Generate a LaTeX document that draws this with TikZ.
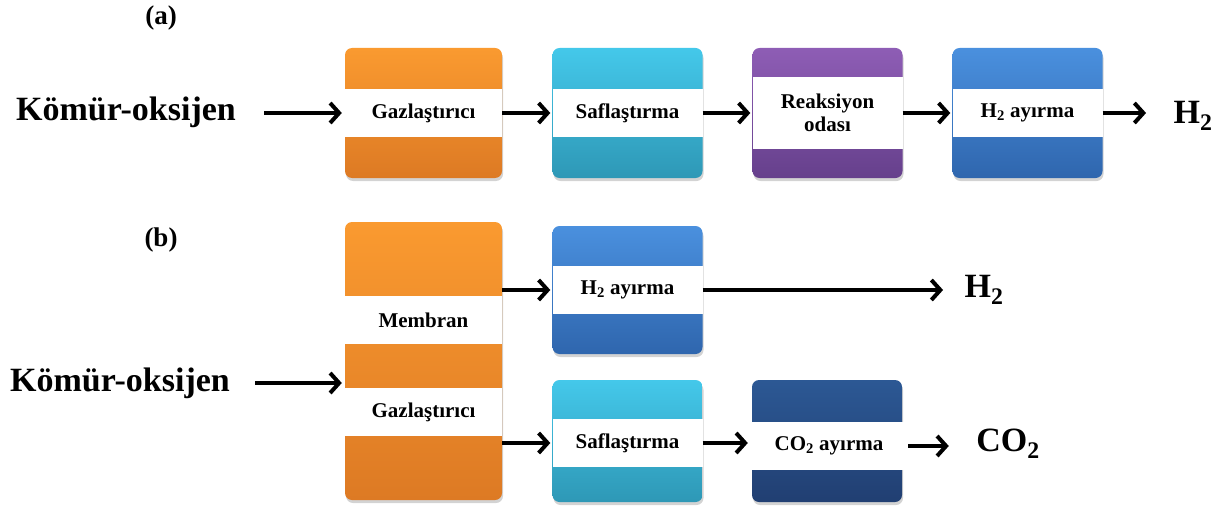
\documentclass[tikz,border=0pt]{standalone}
\usepackage{fontspec}
\setmainfont{Liberation Serif}
\usetikzlibrary{arrows.meta,shadows}
\definecolor{turuncuA}{HTML}{FA9A30}
\definecolor{turuncuB}{HTML}{DD7A24}
\definecolor{camA}{HTML}{44C8EA}
\definecolor{camB}{HTML}{2E98B6}
\definecolor{morA}{HTML}{8E5DB5}
\definecolor{morB}{HTML}{66408C}
\definecolor{maviA}{HTML}{4A90DE}
\definecolor{maviB}{HTML}{2F66AE}
\definecolor{laciA}{HTML}{2C5894}
\definecolor{laciB}{HTML}{213F72}
\tikzset{
  kutu/.style 2 args={rounded corners=7pt,inner sep=0pt,minimum width=150pt,
    top color=#1,bottom color=#2,
    drop shadow={opacity=0.35,shadow xshift=1pt,shadow yshift=-3pt}},
  bant/.style={fill=white,inner sep=0pt,minimum width=150pt,minimum height=48pt,
    align=center,font=\bfseries\fontsize{21}{23}\selectfont},
  etiket/.style={font=\bfseries\fontsize{34}{36}\selectfont},
  ok/.style={-{Straight Barb[length=9pt,width=20pt,line width=4pt]},line width=4pt},
}
\begin{document}
\begin{tikzpicture}[x=1pt,y=-1pt]
\useasboundingbox (0,0) rectangle (1231,516);
% (a)
\node[font=\bfseries\fontsize{27}{29}\selectfont] (a) at (161,18) {(a)};
\node[etiket] (kok1) at (126,112) {Kömür-oksijen};
\node[kutu={turuncuA}{turuncuB},minimum width=157pt,minimum height=130pt] (gaz1) at (423.5,113) {};
\node[bant,minimum width=157pt] (gaz1b) at (gaz1) {Gazlaştırıcı};
\node[kutu={camA}{camB},minimum height=130pt] (saf1) at (627.5,113) {};
\node[bant] (saf1b) at (saf1) {Saflaştırma};
\node[kutu={morA}{morB},minimum height=130pt] (reak) at (827.5,113) {};
\node[bant,minimum height=72pt] (reakb) at (reak) {Reaksiyon\\odası};
\node[kutu={maviA}{maviB},minimum height=130pt] (ayr1) at (1027.5,113) {};
\node[bant] (ayr1b) at (ayr1) {H\textsubscript{2} ayırma};
\node[etiket] (h2a) at (1193,116) {H\textsubscript{2}};
\draw[ok,shorten <=25pt,shorten >=3pt] (gaz1b.west -| kok1.east) -- (gaz1b.west);
\draw[ok,shorten >=2pt] (gaz1b) -- (saf1b);
\draw[ok,shorten >=2pt] (saf1b) -- (reakb);
\draw[ok,shorten >=2pt] (reakb) -- (ayr1b);
\draw[ok,shorten >=24pt] (ayr1b.east) -- (ayr1b.east -| h2a.west);
% (b)
\node[font=\bfseries\fontsize{27}{29}\selectfont] (b) at (161,240) {(b)};
\node[etiket] (kok2) at (120,383) {Kömür-oksijen};
\node[kutu={turuncuA}{turuncuB},minimum width=157pt,minimum height=278pt] (gaz2) at (423.5,361) {};
\node[bant,minimum width=157pt] (memb) at (423.5,320) {Membran};
\node[bant,minimum width=157pt] (gaz2b) at (423.5,412) {Gazlaştırıcı};
\node[kutu={maviA}{maviB},minimum height=128pt] (ayr2) at (627.5,290) {};
\node[bant] (ayr2b) at (ayr2) {H\textsubscript{2} ayırma};
\node[kutu={camA}{camB},minimum height=122pt] (saf2) at (627.5,441) {};
\node[bant] (saf2b) at (627.5,443) {Saflaştırma};
\node[kutu={laciA}{laciB},minimum height=122pt] (co2) at (827,441) {};
\node[bant,minimum width=158pt] (co2b) at (829,446) {CO\textsubscript{2} ayırma};
\node[etiket] (h2b) at (984,290) {H\textsubscript{2}};
\node[etiket] (co2c) at (1008,444) {CO\textsubscript{2}};
\draw[ok,shorten <=22pt,shorten >=3pt] (kok2.east) -- (kok2.east -| gaz2.west);
\draw[ok,shorten >=2pt] (gaz2.east |- ayr2b) -- (ayr2b.west);
\draw[ok,shorten >=2pt] (gaz2.east |- saf2b) -- (saf2b.west);
\draw[ok,shorten >=18pt] (ayr2b.east) -- (ayr2b.east -| h2b.west);
\draw[ok,shorten >=2pt] (saf2b.east) -- (saf2b.east -| co2b.west);
\draw[ok,shorten >=24pt] (co2b.east) -- (co2b.east -| co2c.west);
\end{tikzpicture}
\end{document}
